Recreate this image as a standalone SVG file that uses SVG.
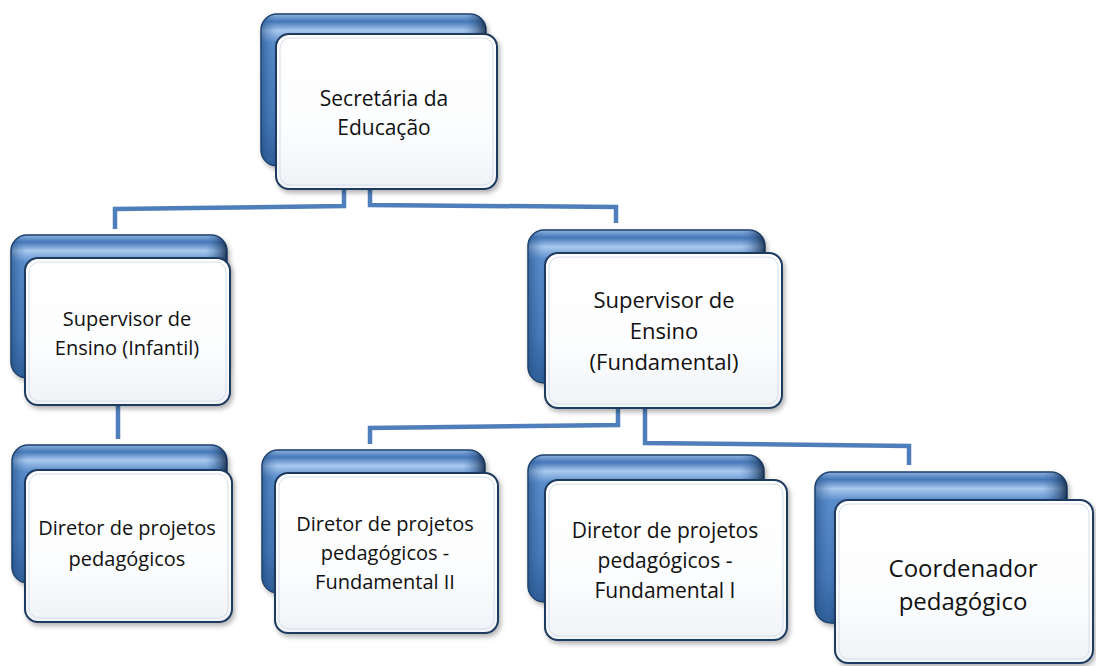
<svg xmlns="http://www.w3.org/2000/svg" width="1096" height="666" viewBox="0 0 1096 666">
<defs>
<linearGradient id="backG" x1="0" y1="0" x2="0" y2="1">
<stop offset="0" stop-color="#8fb4e0"/>
<stop offset="0.05" stop-color="#4677b8"/>
<stop offset="0.11" stop-color="#a9c9ee"/>
<stop offset="0.19" stop-color="#5a8dcc"/>
<stop offset="0.7" stop-color="#4678b8"/>
<stop offset="1" stop-color="#2a5a94"/>
</linearGradient>
<linearGradient id="backSide" x1="0" y1="0" x2="1" y2="0">
<stop offset="0" stop-color="#1f4a7e" stop-opacity="0.6"/>
<stop offset="0.07" stop-color="#4f82c2" stop-opacity="0"/>
<stop offset="0.9" stop-color="#4f82c2" stop-opacity="0"/>
<stop offset="1" stop-color="#0d2340" stop-opacity="0.85"/>
</linearGradient>
<linearGradient id="frontG" x1="0" y1="0" x2="0" y2="1">
<stop offset="0" stop-color="#ffffff"/>
<stop offset="0.6" stop-color="#fcfdfe"/>
<stop offset="1" stop-color="#f0f3f7"/>
</linearGradient>
<filter id="sh" x="-10%" y="-10%" width="125%" height="125%">
<feDropShadow dx="2" dy="3" stdDeviation="2.5" flood-color="#000" flood-opacity="0.3"/>
</filter>
</defs>
<style>
.back{fill:url(#backG);stroke:#1c3d66;stroke-width:1.5;filter:url(#sh)}
.bside{fill:url(#backSide);stroke:none}
.front{fill:url(#frontG);stroke:#1f3a5f;stroke-width:2;filter:url(#sh)}
.inner{fill:none;stroke:#d3deeb;stroke-width:1}
.conn{fill:none;stroke:#4f7fba;stroke-width:4.5;stroke-linejoin:miter}
.t{font-family:"Open Sans","Noto Sans","DejaVu Sans",sans-serif;fill:#111;text-anchor:middle}
</style>

<g id="connectors">
<path class="conn" d="M344,190 V206 L115,209 V229"/>
<path class="conn" d="M370,190 V205 L616,207 V223"/>
<path class="conn" d="M118,405 V439"/>
<path class="conn" d="M618,408 V425 L370,428 V444"/>
<path class="conn" d="M645,408 V443 L909,446 V465"/>
</g>

<g id="n-secretaria">
<rect class="back" x="261" y="14" width="225" height="152" rx="16"/>
<rect class="bside" x="261" y="14" width="225" height="152" rx="16"/>
<rect class="front" x="276" y="34" width="221" height="155" rx="13"/>
<rect class="inner" x="280" y="38" width="213" height="147" rx="10"/>
<text class="t" font-size="21"><tspan x="384" y="106">Secretária da</tspan><tspan x="384" y="135">Educação</tspan></text>
</g>

<g id="n-sup-infantil">
<rect class="back" x="11" y="235" width="216" height="143" rx="16"/>
<rect class="bside" x="11" y="235" width="216" height="143" rx="16"/>
<rect class="front" x="25" y="258" width="205" height="147" rx="13"/>
<rect class="inner" x="29" y="262" width="197" height="139" rx="10"/>
<text class="t" font-size="20"><tspan x="127" y="326">Supervisor de</tspan><tspan x="127" y="355">Ensino (Infantil)</tspan></text>
</g>

<g id="n-sup-fundamental">
<rect class="back" x="528" y="230" width="237" height="153" rx="16"/>
<rect class="bside" x="528" y="230" width="237" height="153" rx="16"/>
<rect class="front" x="545" y="253" width="237" height="155" rx="13"/>
<rect class="inner" x="549" y="257" width="229" height="147" rx="10"/>
<text class="t" font-size="22"><tspan x="664" y="308">Supervisor de</tspan><tspan x="664" y="339">Ensino</tspan><tspan x="664" y="370">(Fundamental)</tspan></text>
</g>

<g id="n-diretor-infantil">
<rect class="back" x="12" y="445" width="215" height="138" rx="16"/>
<rect class="bside" x="12" y="445" width="215" height="138" rx="16"/>
<rect class="front" x="25" y="470" width="207" height="152" rx="13"/>
<rect class="inner" x="29" y="474" width="199" height="144" rx="10"/>
<text class="t" font-size="20"><tspan x="127" y="535">Diretor de projetos</tspan><tspan x="127" y="566">pedagógicos</tspan></text>
</g>

<g id="n-diretor-fund2">
<rect class="back" x="262" y="450" width="223" height="143" rx="16"/>
<rect class="bside" x="262" y="450" width="223" height="143" rx="16"/>
<rect class="front" x="275" y="473" width="223" height="160" rx="13"/>
<rect class="inner" x="279" y="477" width="215" height="152" rx="10"/>
<text class="t" font-size="20"><tspan x="385" y="531">Diretor de projetos</tspan><tspan x="385" y="560">pedagógicos -</tspan><tspan x="385" y="589">Fundamental II</tspan></text>
</g>

<g id="n-diretor-fund1">
<rect class="back" x="528" y="455" width="236" height="147" rx="16"/>
<rect class="bside" x="528" y="455" width="236" height="147" rx="16"/>
<rect class="front" x="545" y="480" width="242" height="160" rx="13"/>
<rect class="inner" x="549" y="484" width="234" height="152" rx="10"/>
<text class="t" font-size="21"><tspan x="665" y="538">Diretor de projetos</tspan><tspan x="665" y="568">pedagógicos -</tspan><tspan x="665" y="598">Fundamental I</tspan></text>
</g>

<g id="n-coordenador">
<rect class="back" x="815" y="472" width="252" height="151" rx="16"/>
<rect class="bside" x="815" y="472" width="252" height="151" rx="16"/>
<rect class="front" x="835" y="500" width="258" height="163" rx="13"/>
<rect class="inner" x="839" y="504" width="250" height="155" rx="10"/>
<text class="t" font-size="24"><tspan x="963" y="577">Coordenador</tspan><tspan x="963" y="610">pedagógico</tspan></text>
</g>
</svg>
